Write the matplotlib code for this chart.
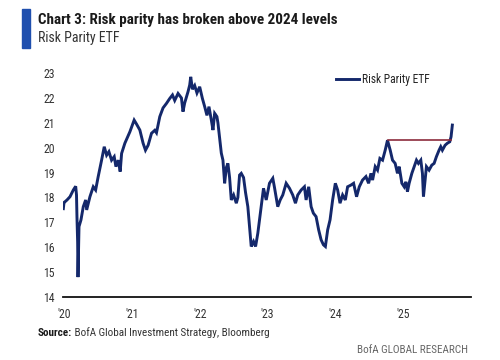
import matplotlib
matplotlib.use('Agg')
import matplotlib.pyplot as plt
from matplotlib.patches import Rectangle
from matplotlib import font_manager

names = {f.name for f in font_manager.fontManager.ttflist}
cands = ['Roboto Condensed', 'Liberation Sans Narrow', 'PT Sans Narrow', 'Open Sans Condensed',
         'Asap Condensed', 'Archivo Narrow', 'Liberation Sans']
narrow = [c for c in cands if c in names][0]
plt.rcParams['font.family'] = [narrow, 'DejaVu Sans']

# Risk Parity ETF (decimal years)
years = [2019.990, 2020.000, 2020.015, 2020.044, 2020.088, 2020.137, 2020.172, 2020.184,
         2020.191, 2020.201, 2020.206, 2020.221, 2020.250, 2020.284, 2020.319, 2020.334,
         2020.382, 2020.431, 2020.466, 2020.504, 2020.554, 2020.593, 2020.628, 2020.662,
         2020.701, 2020.740, 2020.765, 2020.799, 2020.828, 2020.849, 2020.897, 2020.971,
         2021.034, 2021.069, 2021.118, 2021.166, 2021.201, 2021.240, 2021.290, 2021.338,
         2021.363, 2021.412, 2021.460, 2021.510, 2021.559, 2021.599, 2021.632, 2021.681,
         2021.731, 2021.754, 2021.779, 2021.828, 2021.853, 2021.868, 2021.893, 2021.926,
         2021.960, 2022.000, 2022.040, 2022.074, 2022.107, 2022.137, 2022.172, 2022.196,
         2022.221, 2022.254, 2022.269, 2022.294, 2022.319, 2022.343, 2022.368, 2022.393,
         2022.416, 2022.441, 2022.466, 2022.500, 2022.540, 2022.563, 2022.588, 2022.613,
         2022.647, 2022.676, 2022.710, 2022.735, 2022.760, 2022.794, 2022.824, 2022.857,
         2022.882, 2022.907, 2022.941, 2022.981, 2023.029, 2023.078, 2023.103, 2023.151,
         2023.187, 2023.225, 2023.275, 2023.324, 2023.372, 2023.412, 2023.446, 2023.496,
         2023.544, 2023.569, 2023.607, 2023.643, 2023.676, 2023.716, 2023.754, 2023.790,
         2023.824, 2023.853, 2023.887, 2023.922, 2023.960, 2024.000, 2024.034, 2024.069,
         2024.107, 2024.147, 2024.181, 2024.231, 2024.269, 2024.313, 2024.353, 2024.401,
         2024.451, 2024.490, 2024.525, 2024.549, 2024.588, 2024.622, 2024.657, 2024.696,
         2024.735, 2024.769, 2024.809, 2024.843, 2024.882, 2024.916, 2024.941, 2024.981,
         2025.015, 2025.040, 2025.063, 2025.088, 2025.128, 2025.162, 2025.196, 2025.225,
         2025.260, 2025.284, 2025.299, 2025.319, 2025.343, 2025.382, 2025.422, 2025.456,
         2025.490, 2025.529, 2025.554, 2025.578, 2025.618, 2025.651, 2025.687, 2025.706,
         2025.725]
values = [17.55, 17.80, 17.83, 17.90, 18.03, 18.30, 18.45, 18.10,
          17.20, 16.20, 14.80, 16.83, 17.10, 17.63, 17.90, 17.50,
          18.03, 18.43, 18.30, 18.84, 19.50, 20.04, 19.70, 19.84,
          19.50, 19.64, 19.24, 19.50, 19.04, 19.77, 20.18, 20.64,
          21.11, 20.95, 20.71, 20.18, 19.90, 20.10, 20.58, 20.70,
          20.60, 21.25, 21.60, 21.78, 21.98, 22.12, 21.90, 22.18,
          22.00, 21.45, 21.80, 22.25, 22.52, 22.85, 22.35, 22.50,
          22.20, 22.45, 21.98, 21.65, 21.30, 21.65, 21.11, 20.71,
          21.38, 21.25, 21.00, 20.38, 19.78, 19.50, 18.57, 19.20,
          19.37, 18.80, 17.90, 18.10, 17.77, 18.00, 18.90, 18.97,
          18.80, 18.20, 17.63, 16.83, 16.03, 16.23, 16.03, 16.56,
          17.10, 17.63, 18.37, 17.90, 18.57, 18.77, 18.40, 17.63,
          17.90, 18.10, 18.57, 18.37, 18.10, 17.77, 18.10, 18.30,
          18.43, 17.90, 18.43, 17.63, 17.37, 17.23, 16.70, 16.30,
          16.10, 16.03, 16.70, 17.10, 17.90, 18.57, 18.30, 17.77,
          18.10, 17.90, 18.43, 18.50, 18.57, 18.03, 18.43, 18.70,
          18.84, 18.57, 18.97, 18.70, 19.24, 19.10, 19.57, 19.50,
          19.90, 20.30, 19.90, 19.50, 19.37, 18.97, 19.24, 18.57,
          18.43, 18.63, 18.23, 18.57, 18.97, 19.24, 19.50, 19.37,
          19.50, 18.97, 18.03, 18.57, 19.24, 19.10, 19.30, 19.37,
          19.64, 19.90, 20.04, 19.90, 20.10, 20.18, 20.24, 20.44,
          20.91]

level_2024 = 20.30
level_start = 2024.769
level_end = 2025.706

tick_years = [2020, 2021, 2022, 2023, 2024, 2025]
tick_labels = ["'20", "'21", "'22", "'23", "'24", "'25"]
y_ticks = [14, 15, 16, 17, 18, 19, 20, 21, 22, 23]

navy = '#14286b'
grey = '#333333'

fig = plt.figure(figsize=(5, 3.6), dpi=100)
ax = fig.add_axes([0.126, 0.175, 0.816, 0.622])

ax.plot(years, values, color=navy, linewidth=2.1, label='Risk Parity ETF', solid_joinstyle='miter')
ax.plot([level_start, level_end], [level_2024, level_2024], color='#8c2b3c', linewidth=1.2)

ax.set_xlim(2019.985, 2026.0)
ax.set_ylim(14, 23)
ax.set_xticks(tick_years)
ax.set_xticklabels(tick_labels)
ax.set_yticks(y_ticks)
ax.tick_params(axis='both', length=0, labelsize=8.5, colors=grey, pad=6)
ax.tick_params(axis='x', pad=8)
for s in ['top', 'right', 'left']:
    ax.spines[s].set_visible(False)
ax.spines['bottom'].set_linewidth(1.3)
ax.spines['bottom'].set_color('#111111')

leg = ax.legend(loc='upper right', bbox_to_anchor=(0.925, 1.048), frameon=False, fontsize=8.3,
                handlelength=2.0, handletextpad=0.25)
for t in leg.get_texts():
    t.set_color('#222222')

# header
fig.patches.append(Rectangle((0.044, 0.868), 0.016, 0.106, transform=fig.transFigure,
                             color='#1f4fae', zorder=5))
fig.text(0.076, 0.945, 'Chart 3: Risk parity has broken above 2024 levels', fontsize=10.9,
         fontweight='bold', color='#1a1a1a', va='center')
fig.text(0.076, 0.895, 'Risk Parity ETF', fontsize=10, color='#333333', va='center')

# footer
src = fig.text(0.076, 0.075, 'Source:', fontsize=8, fontweight='bold', color='#1a1a1a', va='center')
fig.canvas.draw()
bb = src.get_window_extent()
fig.text(bb.x1 / fig.bbox.width, 0.075, ' BofA Global Investment Strategy, Bloomberg', fontsize=8,
         color='#333333', va='center')
fig.text(0.936, 0.027, 'BofA GLOBAL RESEARCH', fontsize=8, color='#666666', va='center', ha='right')

plt.savefig('out.png', dpi=100)
